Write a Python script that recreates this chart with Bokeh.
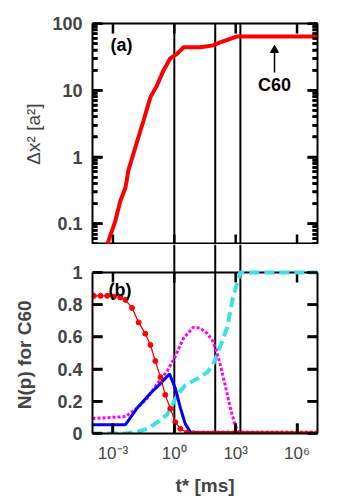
import math
from bokeh.plotting import figure
from bokeh.layouts import column
from bokeh.models import (Range1d, LogAxis, LinearAxis, FixedTicker, CustomJSTickFormatter)
from bokeh.core.properties import value
from bokeh.embed import file_html
from bokeh.resources import INLINE

FONT = "Liberation Sans"

# ---------------- data ----------------
# panel (a): mean square displacement vs t*
msd_t = [5.4e-4, 1.3e-3, 2.3e-3, 4.1e-3, 5.7e-3, 0.016, 0.031, 0.068, 0.14, 0.30,
         0.63, 1.35, 2.8, 18.6, 79, 174, 540, 1170, 1e7]
msd_val = [0.05, 0.11, 0.22, 0.35, 0.63, 1.8, 3.5, 7.9, 11.7, 20,
           30, 35, 44, 44, 47, 52, 59, 64, 64]

# panel (b): N(p) for C60
red_t = [1.16e-4, 2.45e-4, 5.2e-4, 1.1e-3, 2.3e-3, 4.1e-3, 8.6e-3, 0.018, 0.038, 0.068,
         0.118, 0.21, 0.36, 0.64, 1.12, 1.96, 4.2, 8.7,
         15, 26, 45, 80, 140, 240, 420, 720, 1250, 2200, 3800, 6600, 1.15e4, 2e4,
         3.5e4, 6e4, 1.05e5, 1.8e5, 3.2e5, 5.5e5, 9.5e5, 1.65e6, 2.9e6, 5e6, 8.7e6]
red_n = [0.855, 0.855, 0.855, 0.85, 0.845, 0.83, 0.78, 0.69, 0.62, 0.55,
         0.45, 0.35, 0.24, 0.155, 0.07, 0.03, 0.005, 0.0,
         0.0, 0.0, 0.0, 0.0, 0.0, 0.0, 0.0, 0.0, 0.0, 0.0, 0.0, 0.0, 0.0, 0.0,
         0.0, 0.0, 0.0, 0.0, 0.0, 0.0, 0.0, 0.0, 0.0, 0.0, 0.0]

blue_t = [1e-4, 4.1e-3, 0.0157, 0.068, 0.21, 0.58, 1.12, 1.96, 3.44, 6.0, 18.5, 1000, 1e7]
blue_n = [0.055, 0.055, 0.16, 0.25, 0.31, 0.37, 0.28, 0.16, 0.06, 0.01, 0.005, 0.005, 0.0]

mag_t = [1e-4, 4.1e-3, 0.0157, 0.048, 0.148, 0.46, 1.12, 2.75, 8.5, 18.5,
         41, 71, 110, 175, 308, 540, 946, 1450, 2000, 1e7]
mag_n = [0.093, 0.105, 0.16, 0.22, 0.31, 0.39, 0.48, 0.59, 0.66, 0.655,
         0.62, 0.58, 0.52, 0.43, 0.30, 0.16, 0.05, 0.005, 0.0, 0.0]

cyan_t = [1e-4, 4.1e-3, 0.0157, 0.048, 0.148, 0.46, 0.89, 1.57, 3.44, 13.2,
          41, 79, 125, 385, 755, 1660, 1e7]
cyan_n = [0.0, 0.0, 0.01, 0.03, 0.07, 0.12, 0.19, 0.25, 0.30, 0.34,
          0.38, 0.43, 0.49, 0.66, 0.85, 1.0, 1.0]

vline_t = [1.0, 100.0, 1700.0]

x_ticks = [1e-3, 1.0, 1e3, 1e6]
x_tick_labels = ["10\u207b\u00b3", "10\u2070", "10\u00b3", "10\u2076"]
ya_ticks = [0.1, 1.0, 10.0, 100.0]
ya_tick_labels = ["0.1", "1", "10", "100"]
yb_ticks = [0.0, 0.2, 0.4, 0.6, 0.8, 1.0]
yb_tick_labels = ["0", "0.2", "0.4", "0.6", "0.8", "1"]

# ---------------- layout ----------------
W = 350
LEFT = 92
RIGHT = 33
X0, X1 = 1e-4, 1e7
YA0, YA1 = 0.049, 100.0
YB0, YB1, YB_TOP = 0.0, 1.0, 1.174   # panel (b) frame reaches up through the gap
x_range = Range1d(X0, X1)
ya_minor = [k * 10.0 ** e for e in range(-2, 2) for k in range(2, 10) if k * 10.0 ** e >= YA0]

PX_X = 20.45          # pixels per decade along x
PX_YA = 66.8          # pixels per decade along y of panel (a)
PX_YB = 161.0         # pixels per unit along y of panel (b)
MAJ, MIN = 10, 5
TICK_W = 2.5
NAN = float("nan")
EMPTY = CustomJSTickFormatter(code="return ''")


def polyline(p, starts, ends, width=TICK_W):
    """NaN-separated black strokes from each start (x, y) to its end (x, y)."""
    xs, ys = [], []
    for (xa, ya), (xb, yb) in zip(starts, ends):
        xs += [xa, xb, NAN]
        ys += [ya, yb, NAN]
    p.line(xs, ys, line_color="black", line_width=width)


def label(p, x, y, text, align="left", size="18px"):
    p.text(x=[x], y=[y], text=[text], text_font=value(FONT), text_font_style="bold",
           text_font_size=size, text_baseline="middle", text_align=align, text_color="black")


TICKS_IN = dict(major_tick_in=MAJ, major_tick_out=0, minor_tick_in=MIN, minor_tick_out=0,
                major_tick_line_color="black", minor_tick_line_color="black",
                major_tick_line_width=TICK_W, minor_tick_line_width=TICK_W)

kx_maj, kx_min = 10 ** (MAJ / PX_X), 10 ** (MIN / PX_X)
kya_maj = 10 ** (MAJ / PX_YA)
dyb_maj = MAJ / PX_YB

# ----- panel (a) -----
pa = figure(width=W, height=244, x_axis_type="log", y_axis_type="log",
            x_range=x_range, y_range=Range1d(YA0, YA1),
            x_axis_location=None, y_axis_location=None,
            output_backend="svg", toolbar_location=None,
            min_border_left=LEFT, min_border_right=RIGHT,
            min_border_top=23, min_border_bottom=0)
pa.grid.visible = False
pa.outline_line_color = "black"
pa.outline_line_width = 2

ax = LogAxis(ticker=FixedTicker(ticks=ya_ticks, minor_ticks=ya_minor),
             major_label_overrides=dict(zip(ya_ticks, ya_tick_labels)),
             axis_line_color=None, major_label_standoff=10,
             major_label_text_font=FONT, major_label_text_font_style="bold",
             major_label_text_font_size="18px",
             axis_label="\u0394x\u00b2 [a\u00b2]", axis_label_text_font=FONT,
             axis_label_text_font_style="normal", axis_label_text_font_size="19px",
             axis_label_standoff=5, **TICKS_IN)
pa.add_layout(ax, "left")
axr = LogAxis(ticker=FixedTicker(ticks=ya_ticks, minor_ticks=ya_minor), formatter=EMPTY,
              major_label_text_font_size="0px", major_label_standoff=0,
              axis_line_color=None, **TICKS_IN)
pa.add_layout(axr, "right")

# vertical marker lines and inward ticks
polyline(pa, [(t, YA0) for t in vline_t], [(t, YA1) for t in vline_t], width=2)
polyline(pa, [(X0, y) for y in ya_ticks], [(X0 * kx_maj, y) for y in ya_ticks])
polyline(pa, [(X0, y) for y in ya_minor], [(X0 * kx_min, y) for y in ya_minor])
polyline(pa, [(X1, y) for y in ya_ticks], [(X1 / kx_maj, y) for y in ya_ticks])
polyline(pa, [(X1, y) for y in ya_minor], [(X1 / kx_min, y) for y in ya_minor])
polyline(pa, [(x, YA0) for x in x_ticks], [(x, YA0 * kya_maj) for x in x_ticks])
polyline(pa, [(x, YA1) for x in x_ticks], [(x, YA1 / kya_maj) for x in x_ticks])

pa.line(msd_t, msd_val, line_color="#ff0000", line_width=4)
label(pa, 7.6e-4, 46.9, "(a)")
label(pa, 7.9e4, 12.0, "C60", align="center")
polyline(pa, [(7.9e4, 18.4)], [(7.9e4, 38.0)], width=1.5)
pa.scatter(x=[7.9e4], y=[40.0], marker="triangle", size=8,
           fill_color="black", line_color="black")

# ----- panel (b) -----
pb = figure(width=W, height=256, x_axis_type="log",
            x_range=x_range, y_range=Range1d(YB0, YB_TOP),
            x_axis_location=None, y_axis_location=None,
            output_backend="svg", toolbar_location=None,
            min_border_left=LEFT, min_border_right=RIGHT,
            min_border_top=0, min_border_bottom=67)
pb.grid.visible = False
pb.outline_line_color = None

bx = LogAxis(ticker=FixedTicker(ticks=x_ticks),
             major_label_overrides=dict(zip(x_ticks, x_tick_labels)),
             axis_line_color="black", axis_line_width=2,
             major_label_standoff=10,
             major_label_text_font=FONT, major_label_text_font_style="normal",
             major_label_text_font_size="17px",
             axis_label="t* [ms]", axis_label_text_font=FONT,
             axis_label_text_font_style="bold", axis_label_text_font_size="19px",
             axis_label_standoff=9, **TICKS_IN)
pb.add_layout(bx, "below")
by = LinearAxis(ticker=FixedTicker(ticks=yb_ticks), bounds=(YB0, YB1),
                major_label_overrides=dict(zip(yb_ticks, yb_tick_labels)),
                axis_line_color="black", axis_line_width=2,
                major_label_standoff=10,
                major_label_text_font=FONT, major_label_text_font_style="bold",
                major_label_text_font_size="18px",
                axis_label="N(p) for C60" + "\u00a0" * 6, axis_label_text_font=FONT,
                axis_label_text_font_style="bold", axis_label_text_font_size="19px",
                axis_label_standoff=19, **TICKS_IN)
pb.add_layout(by, "left")
byr = LinearAxis(ticker=FixedTicker(ticks=yb_ticks), bounds=(YB0, YB1), formatter=EMPTY,
                 major_label_text_font_size="0px", major_label_standoff=0,
                 axis_line_color="black", axis_line_width=2, **TICKS_IN)
pb.add_layout(byr, "right")

polyline(pb, [(t, YB0) for t in vline_t], [(t, YB_TOP) for t in vline_t], width=2)
polyline(pb, [(X0, YB1)], [(X1, YB1)], width=2)
polyline(pb, [(X0, y) for y in yb_ticks], [(X0 * kx_maj, y) for y in yb_ticks])
polyline(pb, [(X1, y) for y in yb_ticks], [(X1 / kx_maj, y) for y in yb_ticks])
polyline(pb, [(x, YB0) for x in x_ticks], [(x, YB0 + dyb_maj) for x in x_ticks])
polyline(pb, [(x, YB1) for x in x_ticks], [(x, YB1 - dyb_maj) for x in x_ticks])

pb.line(cyan_t, cyan_n, line_color="#3ce0e6", line_width=4, line_dash="10 5")
pb.line(mag_t, mag_n, line_color="#ff00ff", line_width=3, line_dash="3 2")
pb.line(blue_t, blue_n, line_color="#0000ff", line_width=3)
pb.line(red_t, red_n, line_color="#ff0000", line_width=1.3)
pb.scatter(red_t, red_n, size=5, fill_color="#ff0000", line_color="#ff0000")
label(pb, 6.05e-4, 0.894, "(b)")

layout = column(pa, pb, spacing=0)

open("out.html", "w").write(file_html(layout, INLINE))
